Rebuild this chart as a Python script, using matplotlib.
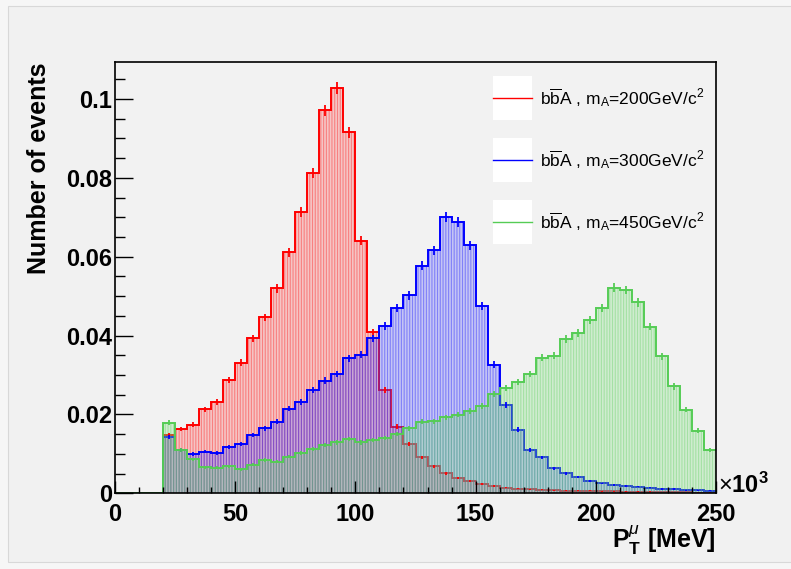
import numpy as np
import matplotlib
matplotlib.use("Agg")
import matplotlib.pyplot as plt
from matplotlib.patches import Rectangle
from matplotlib.ticker import MultipleLocator

plt.rcParams['font.family'] = ['Liberation Sans', 'DejaVu Sans']
plt.rcParams['mathtext.fontset'] = 'custom'
plt.rcParams['mathtext.rm'] = 'Liberation Sans'
plt.rcParams['mathtext.it'] = 'Liberation Sans:italic'
plt.rcParams['mathtext.bf'] = 'Liberation Sans:bold'
plt.rcParams['hatch.linewidth'] = 0.8

# histogram binning (x in units of 10^3 MeV)
bin_lo = 20
bin_width = 5

# normalised P_T distributions, one value per bin from 20 to 250
red_200 = [0.0148, 0.0163, 0.0174, 0.0213, 0.0232, 0.0288, 0.0331, 0.0393, 0.0446, 0.0520,
           0.0611, 0.0714, 0.0812, 0.0971, 0.1027, 0.0916, 0.0641, 0.0408, 0.0261, 0.0169,
           0.0124, 0.0091, 0.0069, 0.0051, 0.0038, 0.0031, 0.0023, 0.0019, 0.0014, 0.0012,
           0.0010, 0.0009, 0.0008, 0.0007, 0.0006, 0.0006, 0.0005, 0.0005, 0.0004, 0.0004,
           0.0004, 0.0003, 0.0003, 0.0003, 0.0002, 0.0002]
blue_300 = [0.0143, 0.0109, 0.0100, 0.0106, 0.0102, 0.0118, 0.0125, 0.0148, 0.0165, 0.0181,
            0.0215, 0.0231, 0.0261, 0.0286, 0.0303, 0.0342, 0.0351, 0.0393, 0.0425, 0.0471,
            0.0502, 0.0577, 0.0616, 0.0700, 0.0689, 0.0629, 0.0474, 0.0326, 0.0224, 0.0161,
            0.0110, 0.0091, 0.0063, 0.0051, 0.0042, 0.0031, 0.0025, 0.0021, 0.0019, 0.0017,
            0.0014, 0.0011, 0.0011, 0.0008, 0.0008, 0.0007]
green_450 = [0.0179, 0.0109, 0.0086, 0.0066, 0.0065, 0.0068, 0.0061, 0.0072, 0.0085, 0.0080,
             0.0093, 0.0103, 0.0112, 0.0123, 0.0129, 0.0138, 0.0129, 0.0135, 0.0140, 0.0150,
             0.0165, 0.0182, 0.0183, 0.0193, 0.0199, 0.0209, 0.0222, 0.0251, 0.0266, 0.0283,
             0.0302, 0.0344, 0.0349, 0.0391, 0.0406, 0.0440, 0.0471, 0.0522, 0.0516, 0.0484,
             0.0423, 0.0347, 0.0271, 0.0212, 0.0159, 0.0110]
n_entries = 45000  # used for the statistical error bars

labels = [r'b$\overline{\mathrm{b}}$A , m$_{\mathrm{A}}$=200GeV/c$^{2}$',
          r'b$\overline{\mathrm{b}}$A , m$_{\mathrm{A}}$=300GeV/c$^{2}$',
          r'b$\overline{\mathrm{b}}$A , m$_{\mathrm{A}}$=450GeV/c$^{2}$']
line_colors = ['#ff0000', '#0000ff', '#55cc55']
fill_colors = ['#ff6060', '#6060ff', '#80e080']

W, H = 791, 569
fig = plt.figure(figsize=(W / 100, H / 100), dpi=100)
fig.patch.set_facecolor('#f6f6f6')
fig.patches.append(Rectangle((8 / W, 1 - 562 / H), 1, (562 - 6) / H, transform=fig.transFigure,
                             facecolor='#f1f1f1', edgecolor='#d8d8d8', lw=0.8, zorder=-1))

ax = fig.add_axes([115 / W, 1 - 493.3 / H, (716 - 115) / W, (493.3 - 62) / H])
ax.set_facecolor('#f2f2f2')

edges = bin_lo + bin_width * np.arange(len(red_200) + 1)
centers = 0.5 * (edges[:-1] + edges[1:])

for vals, lc, fc in zip([red_200, blue_300, green_450], line_colors, fill_colors):
    v = np.array(vals)
    # hatched fill
    ax.stairs(v, edges, fill=True, facecolor=matplotlib.colors.to_rgba(fc, 0.3),
              edgecolor=matplotlib.colors.to_rgba(lc, 0.35), hatch='||||||', lw=0)
    # outline, ROOT draws it from the axis start
    ax.stairs(np.r_[0, v], np.r_[0, edges], color=lc, lw=1.4, baseline=None)
    err = np.sqrt(v / n_entries)
    ax.vlines(centers, v - err, v + err, color=lc, lw=1.3)

ax.set_xlim(0, 250)
ax.set_ylim(0, 0.1094)
ax.xaxis.set_major_locator(MultipleLocator(50))
ax.xaxis.set_minor_locator(MultipleLocator(10))
ax.yaxis.set_major_locator(MultipleLocator(0.02))
ax.yaxis.set_minor_locator(MultipleLocator(0.005))
ax.yaxis.set_major_formatter(matplotlib.ticker.FuncFormatter(lambda y, p: '0' if y == 0 else f'{y:g}'))
ax.tick_params(axis='both', which='both', direction='in', top=False, right=False, colors='black')
ax.tick_params(axis='x', which='major', length=9, width=1, pad=7, labelsize=17)
ax.tick_params(axis='x', which='minor', length=4.5, width=1)
ax.tick_params(axis='y', which='major', length=13, width=1, pad=2, labelsize=17)
ax.tick_params(axis='y', which='minor', length=7, width=1)
for lab in ax.get_xticklabels() + ax.get_yticklabels():
    lab.set_fontweight('bold')
for s in ax.spines.values():
    s.set_linewidth(1.2)

fig.text(39 / W, 1 - 62 / H, 'Number of events', rotation=90, ha='center', va='top',
         fontsize=18, fontweight='bold')
fig.text(716 / W, 1 - 548 / H, r'$\mathbf{P}_{\mathbf{T}}^{\mu}$ [MeV]', ha='right',
         va='baseline', fontsize=18, fontweight='bold')
fig.text(718 / W, 1 - 493 / H, r'$\times$10$^{\mathbf{3}}$', ha='left', va='baseline',
         fontsize=17, fontweight='bold')

# legend drawn ROOT-style
for i, (lab, lc) in enumerate(zip(labels, line_colors)):
    top = 76 + 62 * i
    fig.patches.append(Rectangle((493 / W, 1 - (top + 44) / H), 39 / W, 44 / H,
                                 transform=fig.transFigure, facecolor='white',
                                 edgecolor='none', zorder=5))
    ymid = 1 - (top + 22) / H
    fig.lines.append(plt.Line2D([493 / W, 532 / W], [ymid, ymid], color=lc, lw=1,
                                transform=fig.transFigure, zorder=6))
    fig.text(540 / W, ymid, lab, ha='left', va='center', fontsize=12.5, zorder=6)

fig.savefig('out.png', dpi=100, facecolor=fig.get_facecolor())
